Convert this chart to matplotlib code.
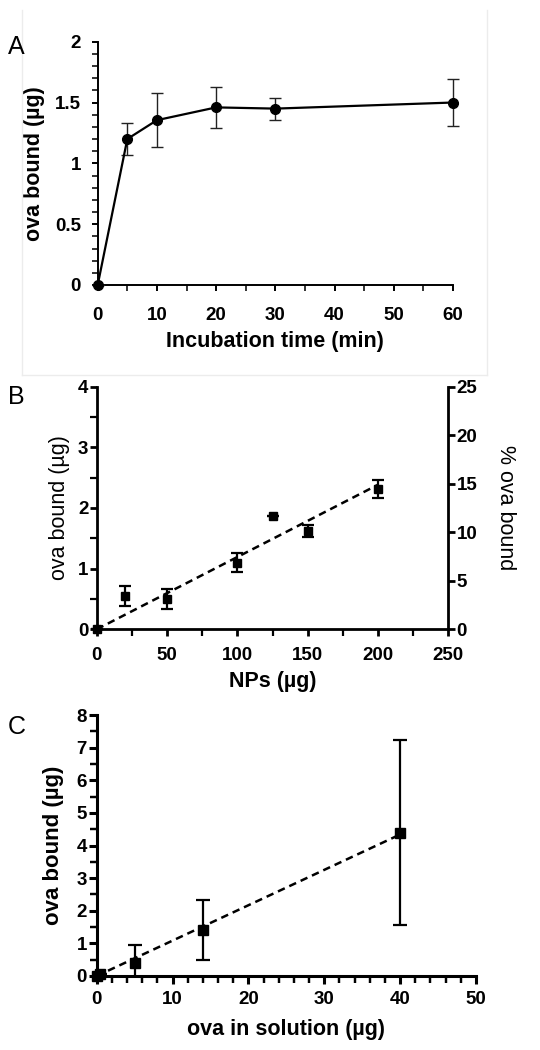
import matplotlib
matplotlib.use("Agg")
import matplotlib.pyplot as plt
import numpy as np
from matplotlib.lines import Line2D
from matplotlib.ticker import MultipleLocator

plt.rcParams['font.family'] = ['Liberation Sans', 'DejaVu Sans']

# ---------------- Data ----------------
# Panel A: binding kinetics
time_min = [0, 5, 10, 20, 30, 60]
bound_a = [0.0, 1.20, 1.355, 1.46, 1.45, 1.50]
err_a = [0.0, 0.13, 0.22, 0.17, 0.09, 0.19]

# Panel B: NP dose
nps_ug = [0, 20, 50, 100, 125, 150, 200]
bound_b = [0.0, 0.55, 0.50, 1.10, 1.87, 1.62, 2.31]
err_b = [0.0, 0.16, 0.16, 0.16, 0.0, 0.10, 0.15]

# Panel C: ova concentration
ova_sol = [0, 0.5, 5, 14, 40]
bound_c = [0.0, 0.05, 0.40, 1.42, 4.39]
err_c = [0.0, 0.0, 0.55, 0.92, 2.84]

fig = plt.figure(figsize=(5.4, 10.5), dpi=100)

# faint frame around panel A
W, H = 540.0, 1050.0
frame_col = '#ececec'
for (x0, y0, x1, y1) in [(22, 10, 22, 375), (487, 10, 487, 375), (22, 375, 487, 375)]:
    fig.add_artist(Line2D([x0 / W, x1 / W], [1 - y0 / H, 1 - y1 / H],
                          color=frame_col, lw=1.0, transform=fig.transFigure))

tick_fs = 13.5
lab_fs = 15.5

def style_axes(ax, lw):
    for s in ['top', 'right']:
        ax.spines[s].set_visible(False)
    for s in ['left', 'bottom']:
        ax.spines[s].set_linewidth(lw)
    ax.tick_params(which='major', direction='out', length=5, width=lw, labelsize=tick_fs, pad=3)
    ax.tick_params(which='minor', direction='out', length=3.5, width=lw * 0.8)
    for lab in ax.get_xticklabels() + ax.get_yticklabels():
        lab.set_fontweight('bold')

# ---------------- Panel A ----------------
axA = fig.add_axes([97.7 / W, 1 - 285 / H, (453 - 97.7) / W, (285 - 41.7) / H])
axA.errorbar(time_min, bound_a, yerr=err_a, color='black', lw=1.6, marker='o',
             markersize=7, ecolor='#222222', elinewidth=1.0, capsize=4, capthick=1.0,
             clip_on=False, zorder=3)
axA.set_xlim(0, 60)
axA.set_ylim(0, 2)
axA.set_xticks([0, 10, 20, 30, 40, 50, 60])
axA.set_yticks([0, 0.5, 1, 1.5, 2])
axA.set_yticklabels(['0', '0.5', '1', '1.5', '2'])
axA.xaxis.set_minor_locator(MultipleLocator(5))
axA.yaxis.set_minor_locator(MultipleLocator(0.1))
style_axes(axA, 1.4)
axA.tick_params(which='minor', length=4)
axA.tick_params(which='major', length=4)
axA.tick_params(axis='x', which='major', pad=12)
axA.tick_params(axis='y', which='major', pad=8)
axA.set_xlabel('Incubation time (min)', fontsize=lab_fs, fontweight='bold', labelpad=5)
axA.set_ylabel('ova bound (µg)', fontsize=lab_fs, fontweight='bold', labelpad=7)
fig.text(8 / W, 1 - 47 / H, 'A', fontsize=18, va='center', ha='left')

# ---------------- Panel B ----------------
axB = fig.add_axes([96.7 / W, 1 - 629.3 / H, (448.3 - 96.7) / W, (629.3 - 386.7) / H])
xb = np.array(nps_ug)
yb = np.array(bound_b)
slope_b = np.sum(xb * yb) / np.sum(xb ** 2)
xf = np.array([xb[0], xb[-1]])
axB.plot(xf, slope_b * xf, ls=(0, (3, 2)), color='black', lw=1.8, zorder=2)
axB.errorbar(nps_ug, bound_b, yerr=err_b, fmt='s', color='black', markersize=6,
             elinewidth=1.6, capsize=4, capthick=1.6, clip_on=False, zorder=3)
axB.set_xlim(0, 250)
axB.set_ylim(0, 4)
axB.set_xticks([0, 50, 100, 150, 200, 250])
axB.set_yticks([0, 1, 2, 3, 4])
axB.xaxis.set_minor_locator(MultipleLocator(25))
axB.yaxis.set_minor_locator(MultipleLocator(0.5))
style_axes(axB, 2.0)
axB.tick_params(which='major', length=5)
axB.tick_params(which='minor', length=5)
axB.tick_params(axis='x', which='major', pad=8)
axB.tick_params(axis='y', which='major', pad=1)
axB.set_xlabel('NPs (µg)', fontsize=lab_fs, fontweight='bold', labelpad=5)
axB.set_ylabel('ova bound (µg)', fontsize=lab_fs, labelpad=6)
axB2 = axB.twinx()
axB2.set_ylim(0, 25)
axB2.set_yticks([0, 5, 10, 15, 20, 25])
for s in ['top', 'left', 'bottom']:
    axB2.spines[s].set_visible(False)
axB2.spines['right'].set_linewidth(2.0)
axB2.tick_params(axis='y', direction='out', length=5, width=2.0, labelsize=tick_fs, pad=1)
for lab in axB2.get_yticklabels():
    lab.set_fontweight('bold')
axB2.set_ylabel('% ova bound', fontsize=lab_fs, rotation=270, labelpad=28)
fig.text(8 / W, 1 - 397 / H, 'B', fontsize=18, va='center', ha='left')

# ---------------- Panel C ----------------
axC = fig.add_axes([96.7 / W, 1 - 976 / H, (476 - 96.7) / W, (976 - 715) / H])
xc = np.array(ova_sol)
yc = np.array(bound_c)
slope_c = np.sum(xc * yc) / np.sum(xc ** 2)
xfc = np.array([xc[0], xc[-1]])
axC.plot(xfc, slope_c * xfc, ls=(0, (3, 2)), color='black', lw=1.8, zorder=2)
# error bars clipped at the axis, markers drawn unclipped on top
axC.errorbar(ova_sol, bound_c, yerr=err_c, fmt='none', ecolor='black',
             elinewidth=1.6, capsize=5, capthick=1.6, clip_on=True, zorder=3)
axC.plot(ova_sol, bound_c, 's', color='black', markersize=7, clip_on=False, zorder=4)
axC.set_xlim(0, 50)
axC.set_ylim(0, 8)
axC.set_xticks([0, 10, 20, 30, 40, 50])
axC.set_yticks(list(range(0, 9)))
axC.xaxis.set_minor_locator(MultipleLocator(2))
axC.yaxis.set_minor_locator(MultipleLocator(0.5))
style_axes(axC, 2.2)
axC.tick_params(which='major', length=6)
axC.tick_params(which='minor', length=5)
axC.tick_params(axis='x', which='major', pad=5)
axC.tick_params(axis='y', which='major', pad=1)
axC.set_xlabel('ova in solution (µg)', fontsize=lab_fs, fontweight='bold', labelpad=8)
axC.set_ylabel('ova bound (µg)', fontsize=16, fontweight='bold', labelpad=9)
fig.text(8 / W, 1 - 727 / H, 'C', fontsize=18, va='center', ha='left')

fig.savefig('out.png', dpi=100)
